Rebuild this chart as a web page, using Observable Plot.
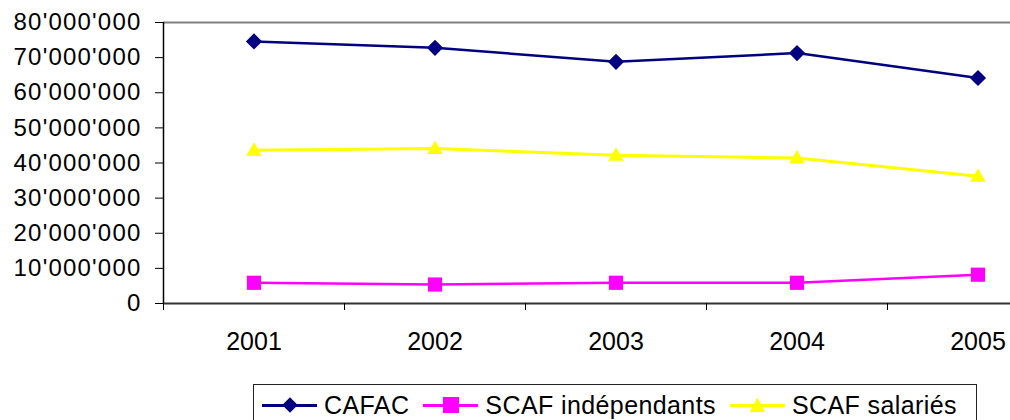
<!DOCTYPE html>
<html>
<head>
<meta charset="utf-8">
<script src="https://cdn.jsdelivr.net/npm/d3@7"></script>
<script src="https://cdn.jsdelivr.net/npm/@observablehq/plot@0.6"></script>
<style>
  html, body { margin: 0; padding: 0; background: #fff; overflow: hidden; width: 1010px; height: 420px; }
  #wrap { position: relative; width: 1010px; height: 420px; }
  #chart svg { overflow: hidden; }
  #chart g[aria-label="y-axis tick label"] text { letter-spacing: 1.2px; }
  #legend {
    position: absolute; left: 253px; top: 384px;
    border: 1px solid #222; background: #fff;
    height: 60px; display: flex; align-items: flex-start; white-space: nowrap;
    font-family: "Liberation Sans", Arial, sans-serif; font-size: 25px; color: #000;
    padding: 0 5px 0 8px; box-sizing: border-box; letter-spacing: 0.4px;
  }
  .item { display: flex; align-items: center; height: 40px; margin-right: 14px; flex-shrink: 0; }
  .item span { white-space: nowrap; }
  .sample { position: relative; width: 55px; height: 20px; margin-right: 7px; flex-shrink: 0; }
  .sample .ln { position: absolute; left: 0; right: 0; top: 9px; height: 2.5px; }
  .sample .mk { position: absolute; left: 50%; top: 50%; transform: translate(-50%, -50%); }
</style>
</head>
<body>
<div id="wrap">
  <div id="chart"></div>
  <div id="legend"></div>
</div>
<script>
// ---- data ----
const years = [2001, 2002, 2003, 2004, 2005];
const cafac = [74600000, 72800000, 68800000, 71300000, 64200000];
const scafIndependants = [5900000, 5400000, 5900000, 5900000, 8200000];
const scafSalaries = [43600000, 44100000, 42200000, 41400000, 36200000];
const seriesNames = ["CAFAC", "SCAF indépendants", "SCAF salariés"];
const seriesColors = ["#000080", "#FF00FF", "#FFFF00"];
const yTicks = [0, 10000000, 20000000, 30000000, 40000000, 50000000, 60000000, 70000000, 80000000];

// ---- tables ----
const rows = (vals, name) => years.map((yr, i) => ({year: yr, value: vals[i], series: name}));
const dCafac = rows(cafac, seriesNames[0]);
const dIndep = rows(scafIndependants, seriesNames[1]);
const dSal = rows(scafSalaries, seriesNames[2]);
const boundaries = years.map(y => y - 0.5).concat([years[years.length - 1] + 0.5]);

const fmt = d3.formatLocale({decimal: ".", thousands: "'", grouping: [3], currency: ["", ""]}).format(",");

const W = 1010, H = 380;
const plot = Plot.plot({
  width: W,
  height: H,
  marginLeft: 163,
  marginRight: 0,
  marginTop: 22,
  marginBottom: 77,
  style: {fontFamily: "'Liberation Sans', Arial, sans-serif", background: "#fff", color: "#000", overflow: "hidden"},
  x: {type: "linear", domain: [years[0] - 0.5, years[years.length - 1] + 0.5], range: [163, 1068]},
  y: {domain: [yTicks[0], yTicks[yTicks.length - 1]]},
  marks: [
    Plot.ruleY([yTicks[yTicks.length - 1]], {stroke: "#808080", strokeWidth: 2}),
    Plot.ruleX([years[0] - 0.5], {stroke: "#000", strokeWidth: 1.5}),
    Plot.ruleY([0], {stroke: "#333", strokeWidth: 2}),
    Plot.axisY({ticks: yTicks, tickFormat: fmt, tickSize: 8, tickPadding: 14, fontSize: 24, label: null, stroke: "#000", strokeWidth: 1, strokeOpacity: 1}),
    Plot.axisX({ticks: boundaries, tickFormat: () => "", tickSize: 7, label: null, strokeOpacity: 1, stroke: "#000"}),
    Plot.axisX({ticks: years, tickFormat: d => String(d), tickSize: 0, tickPadding: 29, fontSize: 25, label: null}),
    Plot.line(dSal, {x: "year", y: "value", stroke: seriesColors[2], strokeWidth: 3}),
    Plot.line(dIndep, {x: "year", y: "value", stroke: seriesColors[1], strokeWidth: 2.5}),
    Plot.line(dCafac, {x: "year", y: "value", stroke: seriesColors[0], strokeWidth: 2.5}),
    Plot.dot(dSal, {x: "year", y: "value", symbol: "triangle", r: 5.8, fill: seriesColors[2], stroke: "none", dy: 1}),
    Plot.dot(dIndep, {x: "year", y: "value", symbol: "square", r: 8, fill: seriesColors[1], stroke: "none"}),
    Plot.dot(dCafac, {x: "year", y: "value", symbol: "diamond2", r: 7.3, fill: seriesColors[0], stroke: "none"})
  ]
});
document.getElementById("chart").appendChild(plot);

// ---- legend ----
const markers = [
  c => `<div class="mk" style="width:11px;height:11px;background:${c};transform:translate(-50%,-50%) rotate(45deg)"></div>`,
  c => `<div class="mk" style="width:16px;height:16px;background:${c}"></div>`,
  c => `<div class="mk" style="width:16px;height:15px;background:${c};clip-path:polygon(50% 0,100% 100%,0 100%)"></div>`
];
const legend = document.getElementById("legend");
seriesNames.forEach((name, i) => {
  const item = document.createElement("div");
  item.className = "item";
  item.innerHTML = `<div class="sample"><div class="ln" style="background:${seriesColors[i]}"></div>${markers[i](seriesColors[i])}</div><span>${name}</span>`;
  legend.appendChild(item);
});
</script>
</body>
</html>
